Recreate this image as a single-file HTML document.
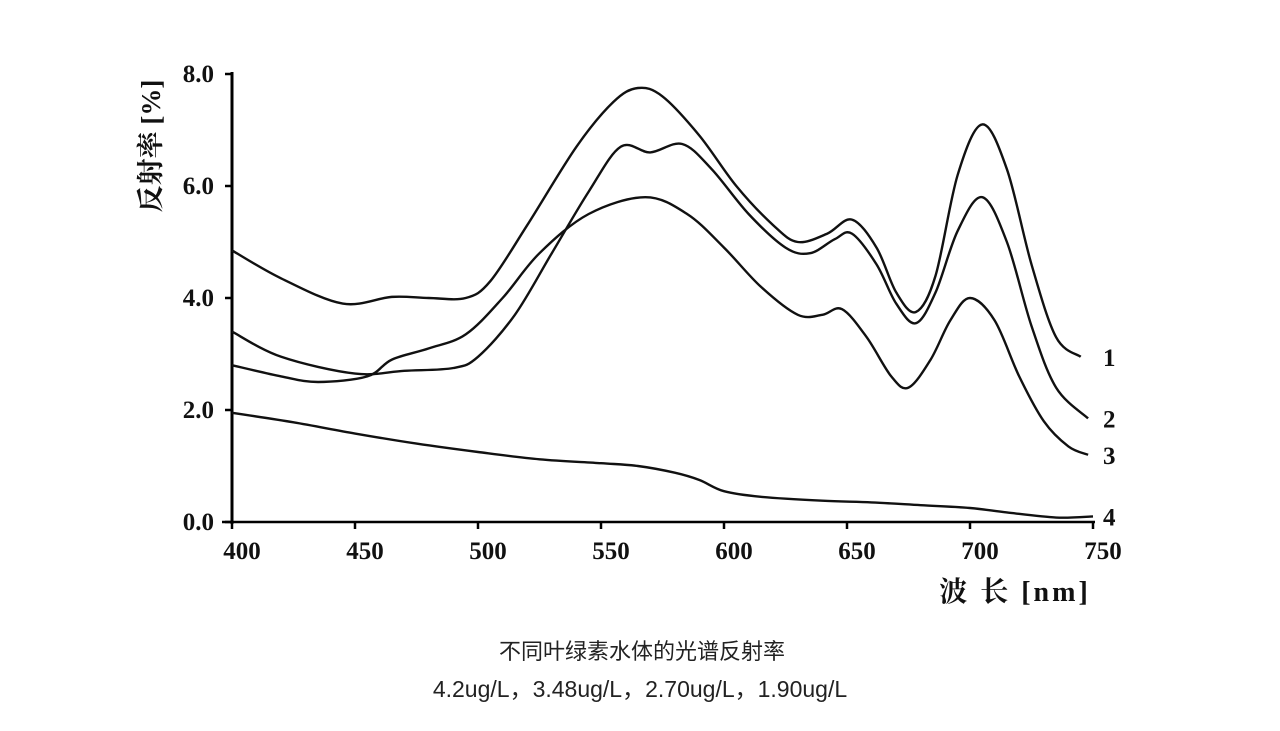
<!DOCTYPE html>
<html><head><meta charset="utf-8"><style>
body{margin:0;background:#fff;width:1280px;height:731px;overflow:hidden}
svg{display:block}
.tk{font-family:"Liberation Serif","Noto Serif CJK SC",serif;font-size:25px;font-weight:bold;fill:#111}
.cap{font-family:"Liberation Sans","Noto Sans CJK SC",sans-serif;fill:#222}
</style></head><body>
<svg id="c" width="1280" height="731">
<text class="cap" x="642" y="659" text-anchor="middle" style="font-size:22px">不同叶绿素水体的光谱反射率</text>
<text class="cap" x="640" y="697" text-anchor="middle" style="font-size:23px">4.2ug/L，3.48ug/L，2.70ug/L，1.90ug/L</text>
<text class="tk" x="0" y="0" transform="translate(160,146) rotate(-90)" text-anchor="middle" style="font-size:27px">反射率 [%]</text>
<text class="tk" x="1015" y="601" text-anchor="middle" style="font-size:28px;letter-spacing:3px">波  长 [nm]</text>
</svg>
<script>
const xTicks=[400,450,500,550,600,650,700,750];
const yTicks=[0,2,4,6,8];
const yTickLabels=["0.0","2.0","4.0","6.0","8.0"];
const seriesLabels=["1","2","3","4"];
const s1x=[400,420,445,465,480,495,505,520,540,555,565,575,590,605,620,630,642,652,662,670,678,686,695,705,715,725,735,745];
const s1y=[4.85,4.35,3.9,4.02,4.0,4.0,4.3,5.3,6.7,7.5,7.75,7.6,6.9,6.0,5.3,5.0,5.15,5.4,4.9,4.1,3.75,4.4,6.2,7.1,6.3,4.6,3.3,2.95];
const s2x=[400,420,450,470,490,500,515,530,545,558,570,583,595,610,625,635,645,652,662,670,678,686,695,705,715,725,735,748];
const s2y=[3.4,2.95,2.65,2.7,2.75,2.95,3.7,4.8,5.9,6.7,6.6,6.75,6.3,5.5,4.9,4.8,5.05,5.15,4.6,3.9,3.55,4.1,5.2,5.8,5.0,3.5,2.4,1.85];
const s3x=[400,420,435,455,465,480,495,510,525,545,568,585,600,615,630,640,648,658,668,675,684,692,700,710,720,730,740,748];
const s3y=[2.8,2.6,2.5,2.6,2.9,3.1,3.35,4.0,4.8,5.5,5.8,5.5,4.9,4.2,3.7,3.7,3.8,3.3,2.6,2.4,2.9,3.6,4.0,3.6,2.6,1.8,1.35,1.2];
const s4x=[400,425,450,475,500,525,550,565,580,590,600,615,640,660,680,700,715,735,750];
const s4y=[1.95,1.78,1.58,1.4,1.25,1.12,1.05,1.0,0.88,0.75,0.55,0.45,0.38,0.35,0.3,0.25,0.17,0.08,0.1];
const svg=document.getElementById('c');
const NS='http://www.w3.org/2000/svg';
const X=v=>232+(v-400)*2.46, Y=v=>522-v*56;
function mk(t,a){const e=document.createElementNS(NS,t);for(const k in a)e.setAttribute(k,a[k]);svg.appendChild(e);return e;}
let e=mk('line',{x1:232,y1:Y(8)-2,x2:232,y2:524,stroke:'#000','stroke-width':3});


e=mk('line',{x1:222,y1:522,x2:1095,y2:522,stroke:'#000','stroke-width':2.5});


yTicks.forEach((v,i)=>{
 let t=mk('line',{x1:225,y1:Y(v),x2:232,y2:Y(v),stroke:'#000','stroke-width':2.5});
 
 
 let l=mk('text',{x:214,y:Y(v)+8,'text-anchor':'end',class:'tk'});l.textContent=yTickLabels[i];
 
 
});
xTicks.forEach(v=>{
 let t=mk('line',{x1:X(v),y1:522,x2:X(v),y2:529,stroke:'#000','stroke-width':2.5});
 
 
 let l=mk('text',{x:X(v)+10,y:559,'text-anchor':'middle',class:'tk'});l.textContent=v;
 
 
});
function path(xs,ys){const p=xs.map((x,i)=>[X(x),Y(ys[i])]);let d='M'+p[0];
 for(let i=0;i<p.length-1;i++){const a=p[Math.max(i-1,0)],b=p[i],c=p[i+1],n=p[Math.min(i+2,p.length-1)];
 d+=' C'+(b[0]+(c[0]-a[0])/6)+','+(b[1]+(c[1]-a[1])/6)+' '+(c[0]-(n[0]-b[0])/6)+','+(c[1]-(n[1]-b[1])/6)+' '+c;}return d;}
[[s1x,s1y],[s2x,s2y],[s3x,s3y],[s4x,s4y]].forEach((s,i)=>{
 let p=mk('path',{d:path(s[0],s[1]),fill:'none',stroke:'#111','stroke-width':2.4});
 
 
 const yl=s[1][s[1].length-1];
 let l=mk('text',{x:1103,y:Y(yl)+9,class:'tk'});l.textContent=seriesLabels[i];
 
 
});
</script>
</body></html>
